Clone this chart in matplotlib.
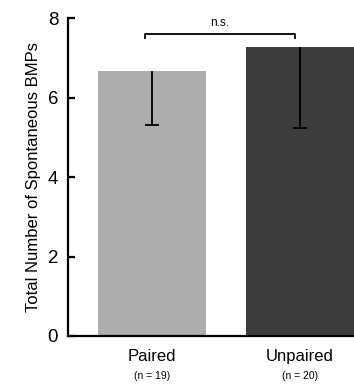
import matplotlib
matplotlib.use("Agg")
import matplotlib.pyplot as plt

plt.rcParams['font.family'] = ['Liberation Sans', 'DejaVu Sans']

groups = ['Paired', 'Unpaired']
counts = ['(n = 19)', '(n = 20)']
means = [6.67, 7.28]
err_low = [5.31, 5.23]
bar_colors = ['#adadad', '#3c3c3c']

fig = plt.figure(figsize=(3.54, 3.84), dpi=100)
ax = fig.add_axes([0.192, 0.125, 0.808, 0.828])

x = [0, 1]
ax.bar(x, means, width=0.73, color=bar_colors, zorder=1)
# one-sided error bars (downward only)
ax.vlines(x, err_low, means, color='black', lw=1.3, zorder=3)
ax.hlines(err_low, [i - 0.045 for i in x], [i + 0.045 for i in x], color='black', lw=1.3, zorder=3)

ax.set_xlim(-0.568, 1.365)
ax.set_ylim(0, 8)
ax.set_yticks([0, 2, 4, 6, 8])
ax.set_xticks([])
ax.spines['top'].set_visible(False)
ax.spines['right'].set_visible(False)
ax.spines['left'].set_linewidth(1.6)
ax.spines['bottom'].set_linewidth(1.6)
ax.tick_params(axis='y', direction='in', length=5, width=1.6, labelsize=13.5, pad=7)
ax.set_ylabel('Total Number of Spontaneous BMPs', fontsize=12, labelpad=5)

for xi, g, n in zip(x, groups, counts):
    ax.text(xi, -0.33, g, ha='center', va='top', fontsize=12, clip_on=False)
    ax.text(xi, -0.88, n, ha='center', va='top', fontsize=7.5, clip_on=False)

# significance bracket
yb = 7.6
ax.plot([-0.05, -0.05, 0.965, 0.965], [yb - 0.1, yb, yb, yb - 0.1], color='black', lw=1.3, clip_on=False)
ax.text(0.46, yb + 0.12, 'n.s.', ha='center', va='bottom', fontsize=8.5, clip_on=False)

fig.savefig('out.png', dpi=100)
